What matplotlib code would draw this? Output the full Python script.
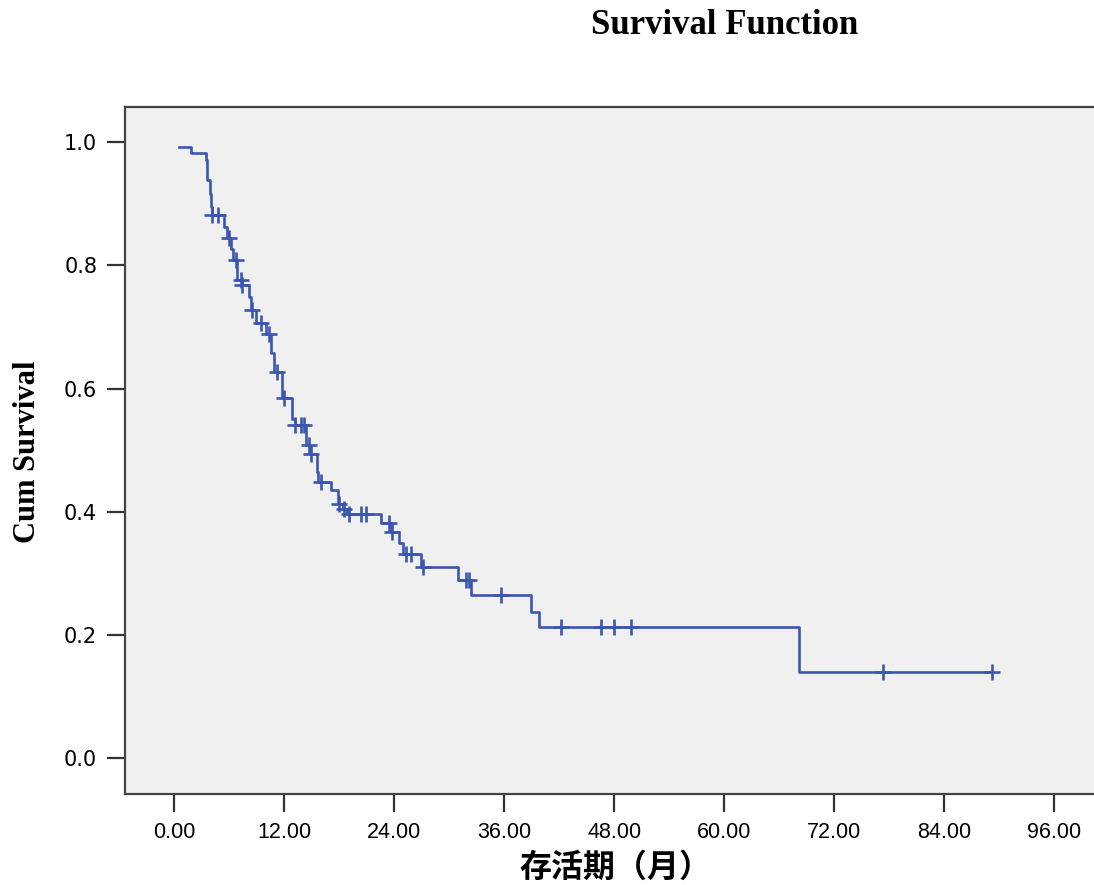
import matplotlib
matplotlib.use("Agg")
import matplotlib.pyplot as plt
import numpy as np

# Kaplan-Meier step values
event_months = [0.44, 1.75, 3.4, 3.5, 3.55, 3.9, 4.0, 4.05,
                5.39, 5.7, 6.12, 6.34, 6.86, 7.33, 8.12, 8.31,
                8.86, 9.95, 10.5, 10.86, 11.78, 12.87, 13.1, 14.3,
                14.4, 14.8, 15.55, 15.6, 15.65, 17.06, 17.8, 18.4,
                18.8, 22.5, 23.6, 24.5, 24.9, 26.9, 30.9, 32.4,
                38.9, 39.8, 68.1]
cum_survival = [0.992, 0.983, 0.971, 0.950, 0.938, 0.915, 0.895, 0.881,
                0.862, 0.844, 0.826, 0.808, 0.776, 0.768, 0.748, 0.727,
                0.706, 0.689, 0.657, 0.627, 0.584, 0.551, 0.541, 0.525,
                0.508, 0.494, 0.480, 0.465, 0.449, 0.435, 0.413, 0.405,
                0.397, 0.382, 0.367, 0.349, 0.331, 0.311, 0.290, 0.265,
                0.237, 0.213, 0.140]
censor_months = [4.1, 4.7, 5.94, 6.67, 7.22, 7.4, 8.5, 9.4, 10.3, 11.2,
                 11.95, 13.2, 13.8, 14.1, 14.7, 14.9, 16.0, 17.96, 18.5,
                 19.06, 20.3, 20.9, 23.4, 23.7, 25.26, 25.8, 27.1, 31.8,
                 32.1, 35.6, 42.2, 46.5, 48.0, 49.8, 77.3, 89.2]

x_ticks = [0, 12, 24, 36, 48, 60, 72, 84, 96]
y_ticks = [0.0, 0.2, 0.4, 0.6, 0.8, 1.0]

line_color = "#3b56b0"

fig = plt.figure(figsize=(10.94, 8.85), dpi=100)
ax = fig.add_axes([125 / 1094, 1 - 794 / 885, 975 / 1094, 687 / 885])
ax.set_facecolor("#f0f0f0")

# step curve, extended to the last censored case
t = event_months + [censor_months[-1]]
s = cum_survival + [cum_survival[-1]]
ax.step(t, s, where="post", color=line_color, lw=1.9)

# censor marks sit on the curve level at their time
idx = np.searchsorted(event_months, censor_months, side="right") - 1
censor_surv = [cum_survival[i] for i in idx]
ax.plot(censor_months, censor_surv, ls="none", marker="+", ms=11,
        mew=1.9, color=line_color)

ax.set_xlim(-5.4, 101)
ax.set_ylim(-0.058, 1.057)
ax.set_xticks(x_ticks)
ax.set_xticklabels([f"{v:.2f}" for v in x_ticks],
                   family="Liberation Sans", fontsize=15.5)
ax.set_yticks(y_ticks)
ax.set_yticklabels([f"{v:.1f}" for v in y_ticks], family="DejaVu Sans",
                   fontsize=15)
ax.tick_params(length=13, width=1.6, color="#333333", pad=7)

for side in ["left", "bottom", "top"]:
    ax.spines[side].set_color("#444444")
    ax.spines[side].set_linewidth(1.6)
ax.spines["right"].set_visible(False)

fig.text(725 / 1094, 1 - 25 / 885, "Survival Function", ha="center", va="center",
         family="Liberation Serif", fontweight="bold", fontsize=25)
fig.text(28 / 1094, 1 - 452 / 885, "Cum Survival", rotation=90, ha="center",
         va="center", family="Liberation Serif", fontweight="bold", fontsize=22)
fig.text(615 / 1094, 1 - 868 / 885, "存活期（月）", ha="center", va="center",
         family=["Noto Sans CJK SC", "DejaVu Sans"], fontweight="bold", fontsize=23)

fig.savefig("out.png", dpi=100)
